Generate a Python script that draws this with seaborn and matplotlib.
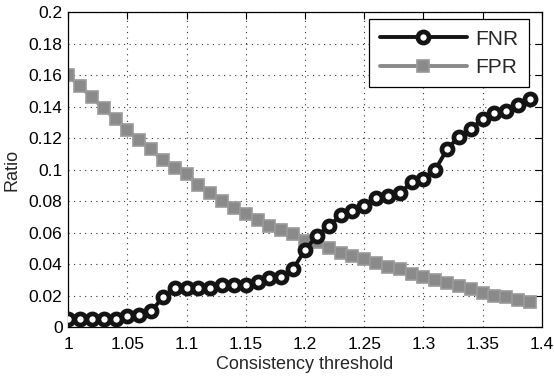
import seaborn as sns
import pandas as pd
import matplotlib.pyplot as plt
from matplotlib.ticker import FixedLocator, FixedFormatter

thresholds = [1.00, 1.01, 1.02, 1.03, 1.04, 1.05, 1.06, 1.07, 1.08, 1.09,
              1.10, 1.11, 1.12, 1.13, 1.14, 1.15, 1.16, 1.17, 1.18, 1.19,
              1.20, 1.21, 1.22, 1.23, 1.24, 1.25, 1.26, 1.27, 1.28, 1.29,
              1.30, 1.31, 1.32, 1.33, 1.34, 1.35, 1.36, 1.37, 1.38, 1.39]

fnr = [0.005, 0.005, 0.005, 0.005, 0.005, 0.007, 0.008, 0.010, 0.019, 0.025,
       0.025, 0.025, 0.025, 0.027, 0.027, 0.027, 0.029, 0.031, 0.032, 0.037,
       0.049, 0.058, 0.064, 0.071, 0.074, 0.077, 0.082, 0.083, 0.085, 0.092,
       0.094, 0.100, 0.113, 0.121, 0.126, 0.132, 0.136, 0.137, 0.141, 0.145]

fpr = [0.160, 0.153, 0.146, 0.139, 0.132, 0.125, 0.119, 0.113, 0.106, 0.101,
       0.097, 0.090, 0.085, 0.080, 0.076, 0.072, 0.068, 0.064, 0.062, 0.059,
       0.055, 0.054, 0.050, 0.047, 0.045, 0.043, 0.041, 0.038, 0.037, 0.034,
       0.032, 0.030, 0.028, 0.026, 0.024, 0.022, 0.020, 0.019, 0.017, 0.016]

x_ticks = [1.0, 1.05, 1.1, 1.15, 1.2, 1.25, 1.3, 1.35, 1.4]
x_labels = ['1', '1.05', '1.1', '1.15', '1.2', '1.25', '1.3', '1.35', '1.4']
y_ticks = [0, 0.02, 0.04, 0.06, 0.08, 0.1, 0.12, 0.14, 0.16, 0.18, 0.2]
y_labels = ['0', '0.02', '0.04', '0.06', '0.08', '0.1', '0.12', '0.14', '0.16', '0.18', '0.2']

df = pd.DataFrame({'threshold': thresholds, 'FNR': fnr, 'FPR': fpr})

sns.set_style("white")
plt.rcParams['font.family'] = ['Liberation Sans', 'DejaVu Sans']

fig = plt.figure(figsize=(5.54, 3.84), dpi=100)
ax = fig.add_axes([0.123, 0.148, 0.855, 0.82])

sns.lineplot(data=df, x='threshold', y='FNR', ax=ax, color='#141414', linewidth=2.8,
             marker='o', markersize=8, markeredgewidth=3.4, markerfacecolor='white',
             markeredgecolor='#141414', label='FNR', zorder=3)
sns.lineplot(data=df, x='threshold', y='FPR', ax=ax, color='#8a8a8a', linewidth=2.8,
             marker='s', markersize=8.5, markeredgewidth=1.2, markerfacecolor='#8a8a8a',
             markeredgecolor='#9a9a9a', label='FPR', zorder=2)

ax.set_xlim(1.0, 1.4)
ax.set_ylim(0, 0.2)
ax.xaxis.set_major_locator(FixedLocator(x_ticks))
ax.xaxis.set_major_formatter(FixedFormatter(x_labels))
ax.yaxis.set_major_locator(FixedLocator(y_ticks))
ax.yaxis.set_major_formatter(FixedFormatter(y_labels))

ax.grid(True, linestyle=(0, (1, 4)), color='#333333', linewidth=0.8)
ax.tick_params(direction='in', length=5, width=0.8, top=True, right=True,
               labelsize=12.5, colors='black')
ax.tick_params(axis='x', pad=7)
ax.tick_params(axis='y', pad=4)
for s in ax.spines.values():
    s.set_color('black')
    s.set_linewidth(0.9)

ax.set_xlabel('Consistency threshold', fontsize=13, labelpad=3)
ax.set_ylabel('Ratio', fontsize=13, labelpad=6)

leg = ax.legend(loc='upper right', bbox_to_anchor=(0.973, 0.978), fontsize=15,
                frameon=True, fancybox=False, edgecolor='black', framealpha=1,
                handlelength=4.2, borderpad=0.5, labelspacing=0.45, handletextpad=0.4,
                borderaxespad=0)
leg.get_frame().set_linewidth(0.9)

fig.savefig('out.png', dpi=100)
